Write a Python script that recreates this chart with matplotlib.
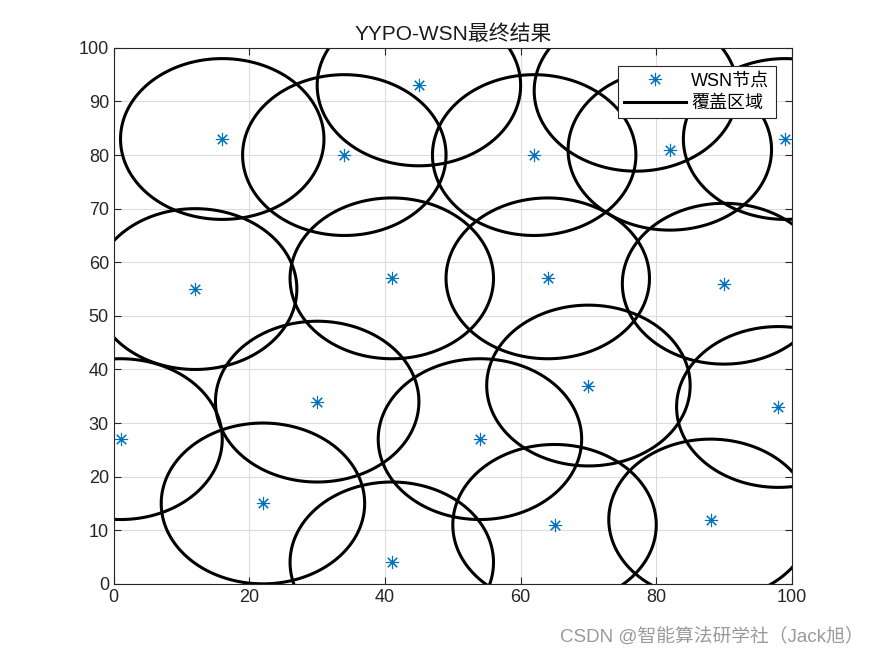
import numpy as np
import matplotlib.pyplot as plt
from matplotlib.lines import Line2D

plt.rcParams['font.family'] = ['Liberation Sans', 'Noto Sans CJK SC']

# node positions
node_x = [1, 16, 12, 22, 30, 34, 45, 41, 41, 54, 62, 64, 65, 70, 82, 90, 88, 98, 99, 77]
node_y = [27, 83, 55, 15, 34, 80, 93, 57, 4, 27, 80, 57, 11, 37, 81, 56, 12, 33, 83, 92]
radius = 15

fig = plt.figure(figsize=(8.75, 6.56), dpi=100)
ax = fig.add_axes([0.13, 0.11, 0.775, 0.817])

t = np.linspace(0, 2 * np.pi, 361)
for cx, cy in zip(node_x, node_y):
    ax.fill(cx + radius * np.cos(t), cy + radius * np.sin(t), fill=False,
            edgecolor='k', lw=2.2, joinstyle='round', zorder=2)

pts, = ax.plot(node_x, node_y, linestyle='none', marker=(8, 2, 0), color='#0072BD',
               markersize=9.5, mew=0.8, zorder=3)

ax.set_xlim(0, 100)
ax.set_ylim(0, 100)
ax.set_xticks(range(0, 101, 20))
ax.set_yticks(range(0, 101, 10))
ax.grid(True, color='#dcdcdc', lw=0.8)
ax.set_axisbelow(True)
ax.tick_params(direction='in', length=5, labelsize=13, colors='#262626', top=True, right=True,
               labeltop=False, labelright=False)
for s in ax.spines.values():
    s.set_color('#262626')
    s.set_linewidth(0.8)

ax.set_title('YYPO-WSN最终结果', fontsize=15, color='#1a1a1a', pad=6)

cover = Line2D([], [], color='k', lw=2.2)
leg = ax.legend([pts, cover], ['WSN节点', '覆盖区域'], loc='upper right',
                bbox_to_anchor=(0.976, 0.966), borderaxespad=0, fontsize=13,
                handlelength=3.4, fancybox=False, framealpha=1, edgecolor='#262626',
                borderpad=0.35, labelspacing=0.3, handletextpad=0.3)
leg.get_frame().set_linewidth(0.8)

fig.text(0.987, 0.015, 'CSDN @智能算法研学社（Jack旭）', ha='right', va='bottom',
         fontsize=13.5, color='#9a9a9a')

fig.savefig('out.png', dpi=100)
